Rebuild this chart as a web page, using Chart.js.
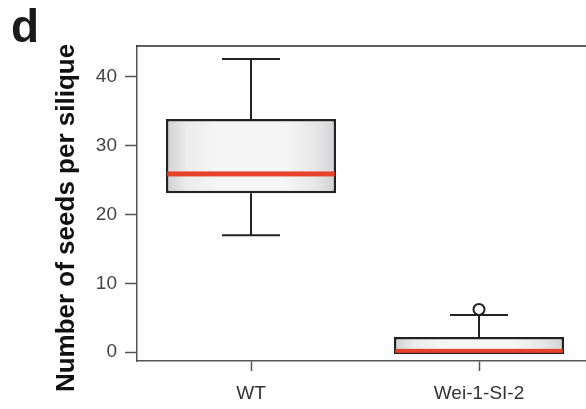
<!DOCTYPE html>
<html>
<head>
<meta charset="utf-8">
<script src="https://cdn.jsdelivr.net/npm/chart.js@4.4.1/dist/chart.umd.min.js"></script>
<style>
  html, body { margin: 0; padding: 0; background: #fff; overflow: hidden; }
  #wrap { position: relative; width: 600px; height: 409px; }
  #panel { position: absolute; left: 11px; top: 3px; font: 700 46px "Liberation Sans", Arial, sans-serif; line-height: 1; color: #1a1a1a; }
</style>
</head>
<body>
<div id="wrap">
  <canvas id="boxChart" width="600" height="409"></canvas>
  <div id="panel">d</div>
</div>
<script>
// Data kotak (box plot)
var categories = ['WT', 'Wei-1-SI-2'];
var q1 = [23.1, -0.3];
var q3 = [33.9, 2.2];
var medians = [25.9, 0.1];
var whiskerLow = [17.0, null];
var whiskerHigh = [42.6, 5.4];
var outliers = [[], [6.2]];
var yTicks = [0, 10, 20, 30, 40];
var yTitle = 'Number of seeds per silique';

var BAR_PCT = 0.746;

function boxGradient(context) {
    var chart = context.chart;
    var xs = chart.scales.x;
    if (!xs || context.dataIndex === undefined) return '#eeeeee';
    var cx = xs.getPixelForValue(context.dataIndex);
    var half = (xs.width / categories.length) * BAR_PCT / 2;
    if (!isFinite(cx) || !isFinite(half) || half <= 0) return '#eeeeee';
    var g = chart.ctx.createLinearGradient(cx - half, 0, cx + half, 0);
    g.addColorStop(0, '#cfcfd1');
    g.addColorStop(0.12, '#ebebec');
    g.addColorStop(0.3, '#f5f5f5');
    g.addColorStop(0.7, '#f5f5f5');
    g.addColorStop(0.88, '#e6e6e7');
    g.addColorStop(1, '#d2d2d4');
    return g;
}

// Plugin untuk garis kumis, median, pencilan, bingkai atas dan judul sumbu
var boxExtras = {
    id: 'boxExtras',
    afterDatasetsDraw: function (chart) {
        var ctx = chart.ctx;
        var xs = chart.scales.x, ys = chart.scales.y;
        var half = (xs.width / categories.length) * BAR_PCT / 2;
        var capHalf = 29;
        ctx.save();
        categories.forEach(function (c, i) {
            var cx = xs.getPixelForValue(i);
            ctx.strokeStyle = '#222';
            ctx.lineWidth = 2;
            if (whiskerHigh[i] !== null) {
                var yh = ys.getPixelForValue(whiskerHigh[i]);
                ctx.beginPath();
                ctx.moveTo(cx, ys.getPixelForValue(q3[i]));
                ctx.lineTo(cx, yh);
                ctx.moveTo(cx - capHalf, yh);
                ctx.lineTo(cx + capHalf, yh);
                ctx.stroke();
            }
            if (whiskerLow[i] !== null) {
                var yl = ys.getPixelForValue(whiskerLow[i]);
                ctx.beginPath();
                ctx.moveTo(cx, ys.getPixelForValue(q1[i]));
                ctx.lineTo(cx, yl);
                ctx.moveTo(cx - capHalf, yl);
                ctx.lineTo(cx + capHalf, yl);
                ctx.stroke();
            }
            // median merah, dipotong di dalam kotak
            var ym = ys.getPixelForValue(medians[i]);
            var top = Math.max(ym - 2.5, ys.getPixelForValue(q3[i]) + 1.25);
            var bot = Math.min(ym + 2.5, ys.getPixelForValue(q1[i]) - 1.25);
            ctx.fillStyle = '#e5412b';
            ctx.fillRect(cx - half + 1.25, top, 2 * half - 2.5, bot - top);
            outliers[i].forEach(function (v) {
                ctx.beginPath();
                ctx.arc(cx, ys.getPixelForValue(v), 5.5, 0, Math.PI * 2);
                ctx.fillStyle = '#fff';
                ctx.fill();
                ctx.stroke();
            });
        });
        // garis bingkai atas
        var area = chart.chartArea;
        ctx.strokeStyle = '#2a2a2a';
        ctx.lineWidth = 1.5;
        ctx.beginPath();
        ctx.moveTo(area.left - 0.75, area.top);
        ctx.lineTo(area.right, area.top);
        ctx.stroke();
        // judul sumbu y
        ctx.translate(74, 218);
        ctx.rotate(-Math.PI / 2);
        ctx.fillStyle = '#111';
        ctx.font = '700 26px "Liberation Sans", Arial, sans-serif';
        ctx.textAlign = 'center';
        ctx.textBaseline = 'alphabetic';
        ctx.fillText(yTitle, 0, 0);
        ctx.restore();
    }
};

new Chart(document.getElementById('boxChart'), {
    type: 'bar',
    data: {
        labels: categories,
        datasets: [{
            data: q1.map(function (v, i) { return [v, q3[i]]; }),
            backgroundColor: boxGradient,
            borderColor: '#222',
            borderWidth: 2.5,
            borderSkipped: false,
            barPercentage: BAR_PCT,
            categoryPercentage: 1
        }]
    },
    options: {
        responsive: false,
        animation: false,
        layout: { padding: { top: 46, right: 7, left: 0, bottom: 0 } },
        plugins: { legend: { display: false }, tooltip: { enabled: false } },
        scales: {
            x: {
                afterFit: function (s) { s.height = 48; },
                grid: { drawOnChartArea: false, offset: false, tickLength: 10, color: '#555', tickWidth: 1.5 },
                border: { color: '#555', width: 1.5 },
                ticks: { color: '#333', padding: 11, font: { family: '"Liberation Sans", Arial, sans-serif', size: 19 } }
            },
            y: {
                min: -1.3,
                max: 44.5,
                afterFit: function (s) { s.width = 137; },
                afterBuildTicks: function (s) { s.ticks = yTicks.map(function (v) { return { value: v }; }); },
                grid: { drawOnChartArea: false, tickLength: 12, color: '#555', tickWidth: 1.5 },
                border: { color: '#555', width: 1.5 },
                ticks: { color: '#444', padding: 8, font: { family: '"Liberation Sans", Arial, sans-serif', size: 19 } }
            }
        }
    },
    plugins: [boxExtras]
});
</script>
</body>
</html>
